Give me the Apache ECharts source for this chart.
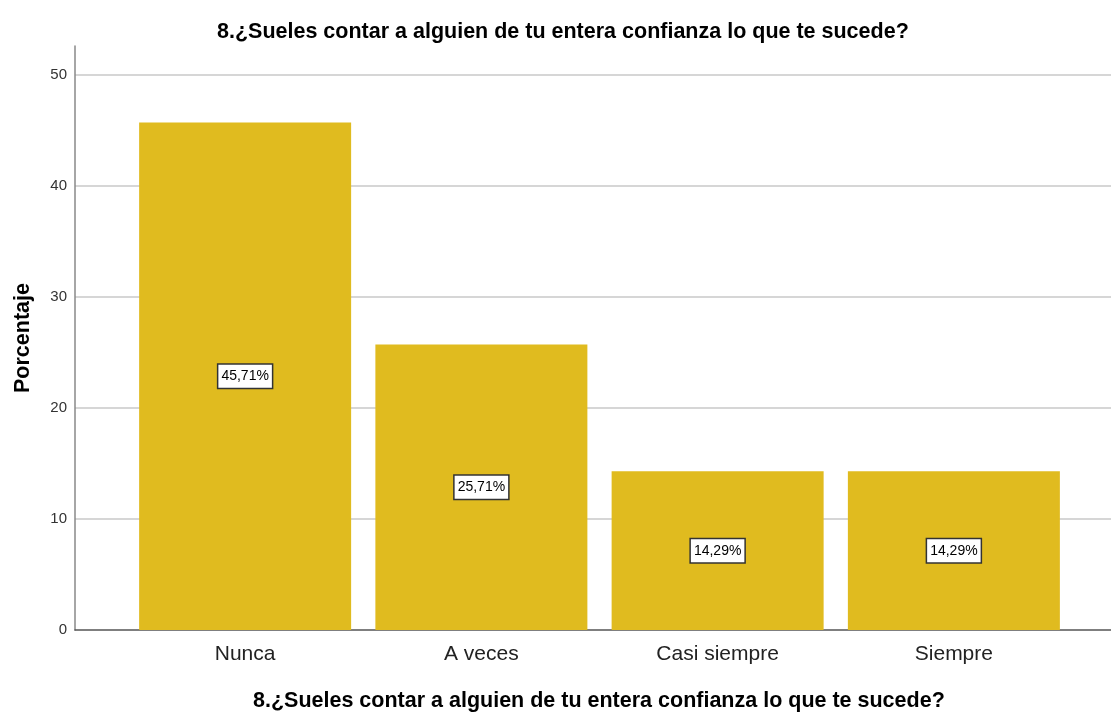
<!DOCTYPE html>
<html>
<head>
<meta charset="utf-8">
<script src="https://cdn.jsdelivr.net/npm/echarts@6/dist/echarts.min.js"></script>
<style>html,body{margin:0;padding:0;background:#fff}#c{width:1111px;height:712px}</style>
</head>
<body>
<div id="c"></div>
<script>
const titleText = '8.¿Sueles contar a alguien de tu entera confianza lo que te sucede?';
const categories = ['Nunca', 'A veces', 'Casi siempre', 'Siempre'];
const percentages = [45.71, 25.71, 14.29, 14.29];
const yAxisName = 'Porcentaje';

const FONT = 'Arial, "Liberation Sans", sans-serif';
const chart = echarts.init(document.getElementById('c'), null, {renderer: 'canvas'});
const yMax = 52.6;
chart.setOption({
  animation: false,
  backgroundColor: '#ffffff',
  title: [
    {text: titleText, left: 212, top: 16,
     textStyle: {fontFamily: FONT, fontSize: 21.5, fontWeight: 'bold', color: '#000'}},
    {text: titleText, left: 248, top: 685,
     textStyle: {fontFamily: FONT, fontSize: 21.5, fontWeight: 'bold', color: '#000'}}
  ],
  grid: [
    {left: 75, right: 0, top: 46, bottom: 82, outerBoundsMode: 'none', containLabel: false},
    {left: 127, right: 39, top: 46, bottom: 82, outerBoundsMode: 'none', containLabel: false}
  ],
  xAxis: [
    {gridIndex: 0, type: 'value', min: 0, max: 1,
     axisLine: {show: true, onZero: false, lineStyle: {color: '#555', width: 1.5}},
     axisTick: {show: false}, axisLabel: {show: false}, splitLine: {show: false}},
    {gridIndex: 1, type: 'category', data: categories,
     axisLine: {show: false}, axisTick: {show: false},
     axisLabel: {margin: 14, fontFamily: FONT, fontSize: 21, color: '#222'}}
  ],
  yAxis: [
    {gridIndex: 0, type: 'value', min: 0, max: yMax, interval: 10,
     name: yAxisName, nameLocation: 'middle', nameGap: 41,
     nameTextStyle: {fontFamily: FONT, fontSize: 21.5, fontWeight: 'bold', color: '#000'},
     axisLine: {show: true, lineStyle: {color: '#888', width: 1.5}},
     axisTick: {show: false},
     axisLabel: {margin: 8, fontFamily: FONT, fontSize: 15, color: '#333', showMaxLabel: false,
       formatter: v => (v % 10 === 0 ? String(v) : '')},
     splitLine: {show: true, showMaxLine: false, showMinLine: false, lineStyle: {color: '#d6d6d6', width: 2}}},
    {gridIndex: 1, type: 'value', min: 0, max: yMax, interval: 10, show: false, splitLine: {show: false}}
  ],
  series: [{
    type: 'bar', xAxisIndex: 1, yAxisIndex: 1, data: percentages, barWidth: 212,
    itemStyle: {color: '#e0bb1f'},
    label: {show: true, position: 'inside', fontFamily: FONT, fontSize: 14, color: '#000',
      backgroundColor: '#fff', borderColor: '#333', borderWidth: 1.5, padding: [5, 3, 4, 3],
      formatter: p => p.value.toFixed(2).replace('.', ',') + '%'}
  }]
});
</script>
</body>
</html>
